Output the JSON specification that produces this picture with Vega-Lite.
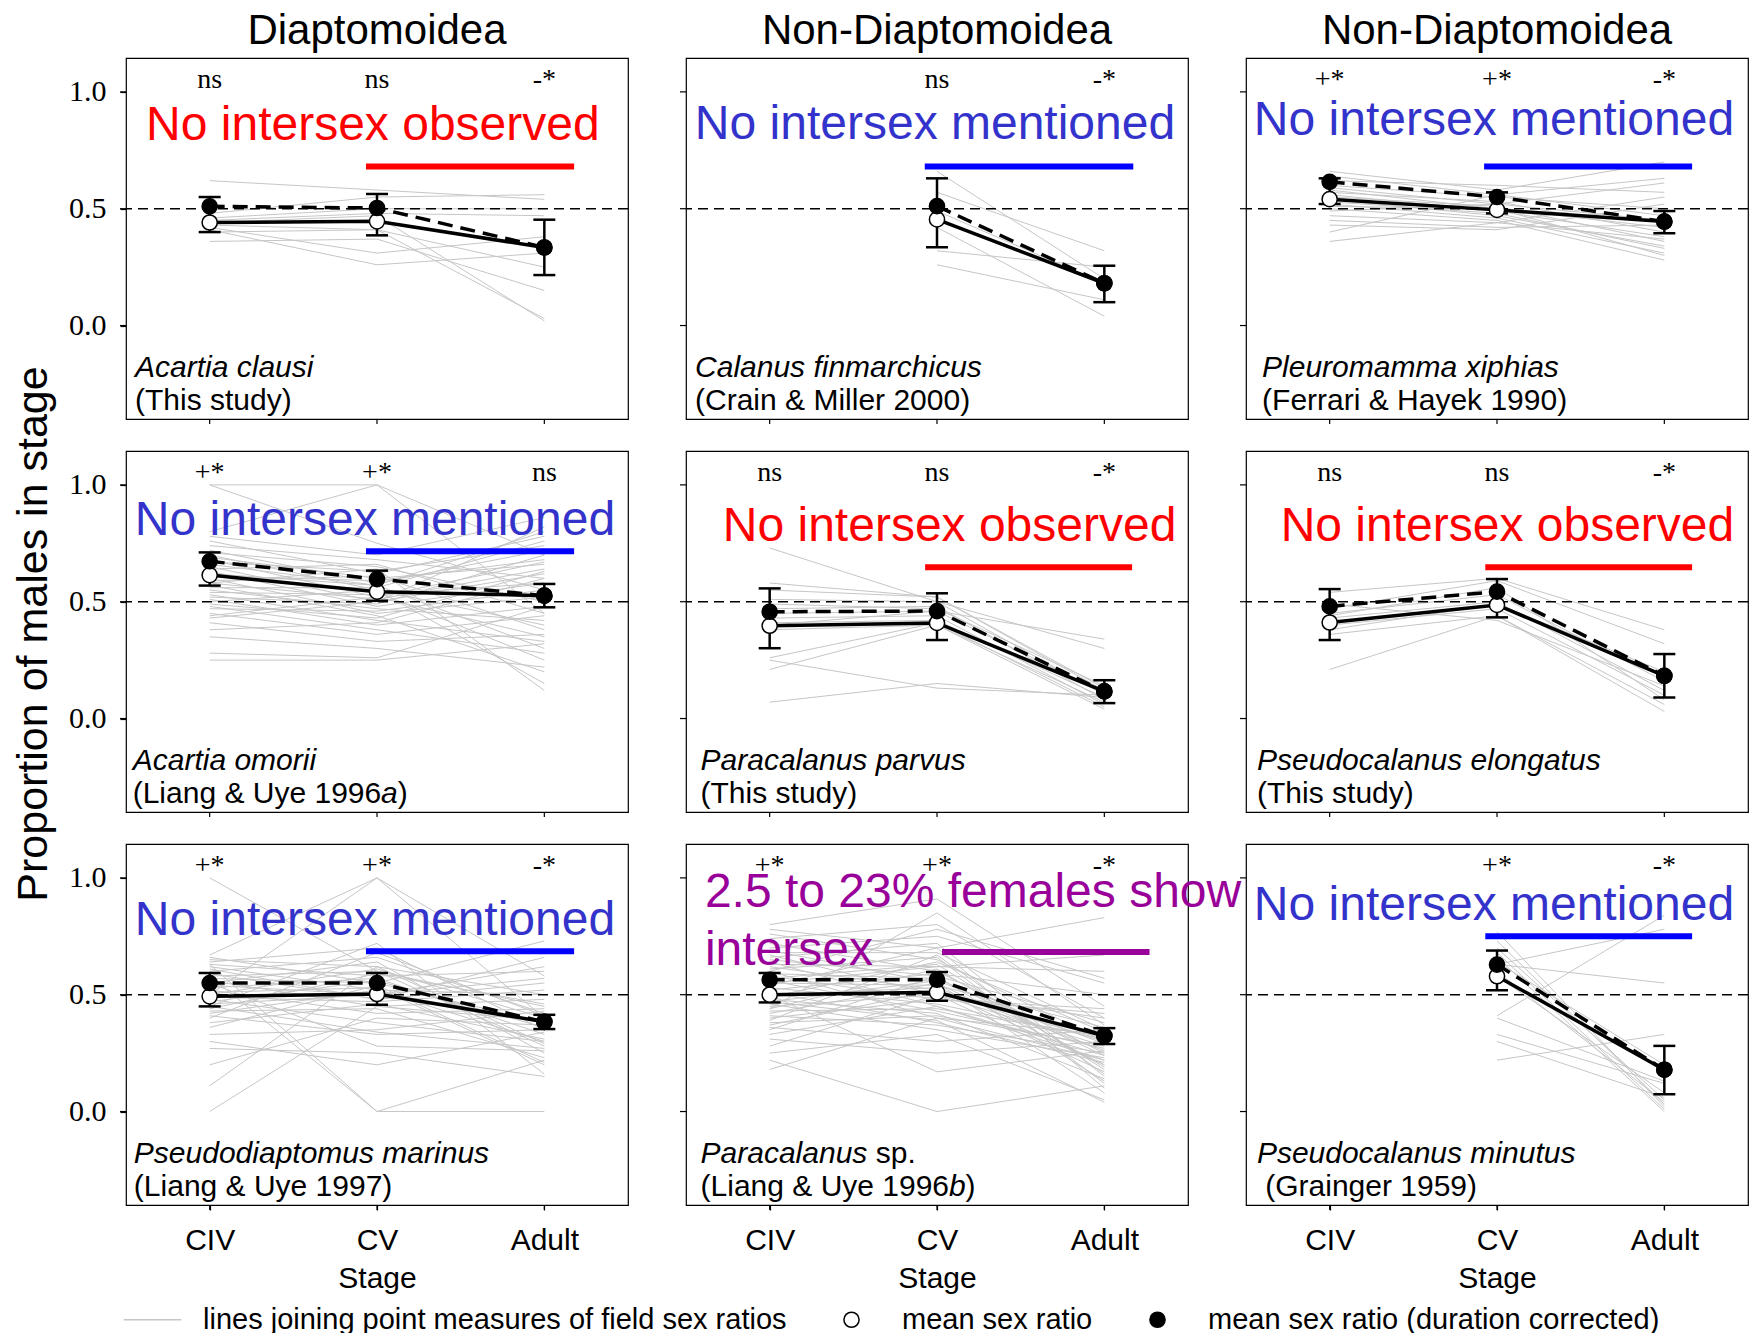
{
"$schema":"https://vega.github.io/schema/vega-lite/v6.json",
"padding":{"left":12,"top":10,"right":0,"bottom":0},
"background":"white",
"bounds":"flush",
"data":{"values":[
{"p":"a","i":1,"1":0.62,"2":0.58,"3":0.54},{"p":"a","i":2,"1":0.48,"2":0.55,"3":0.56},{"p":"a","i":3,"1":0.45,"2":0.48,"3":0.47},{"p":"a","i":4,"1":0.42,"2":0.31,"3":0.38},{"p":"a","i":5,"1":0.41,"2":0.26,"3":0.31},{"p":"a","i":6,"1":0.44,"2":0.47,"3":0.02},{"p":"a","i":7,"1":0.40,"2":0.41,"3":0.03},{"p":"a","i":8,"1":0.36,"2":0.37,"3":0.15},{"p":"a","i":9,"1":0.43,"2":0.41,"3":0.25},{"p":"a","i":10,"1":0.46,"2":0.50,"3":0.50},
{"p":"b","i":1,"2":0.66,"3":0.20},{"p":"b","i":2,"2":0.57,"3":0.32},{"p":"b","i":3,"2":0.42,"3":0.04},{"p":"b","i":4,"2":0.32,"3":0.25},{"p":"b","i":5,"2":0.26,"3":0.11},{"p":"b","i":6,"2":0.49,"3":0.18},
{"p":"c","i":1,"1":0.66,"2":0.58,"3":0.70},{"p":"c","i":2,"1":0.64,"2":0.56,"3":0.63},{"p":"c","i":3,"1":0.62,"2":0.60,"3":0.57},{"p":"c","i":4,"1":0.60,"2":0.55,"3":0.50},{"p":"c","i":5,"1":0.59,"2":0.52,"3":0.45},{"p":"c","i":6,"1":0.58,"2":0.50,"3":0.42},{"p":"c","i":7,"1":0.57,"2":0.53,"3":0.40},{"p":"c","i":8,"1":0.56,"2":0.49,"3":0.38},{"p":"c","i":9,"1":0.55,"2":0.51,"3":0.36},{"p":"c","i":10,"1":0.54,"2":0.47,"3":0.34},{"p":"c","i":11,"1":0.53,"2":0.48,"3":0.33},{"p":"c","i":12,"1":0.52,"2":0.46,"3":0.31},{"p":"c","i":13,"1":0.51,"2":0.50,"3":0.30},{"p":"c","i":14,"1":0.50,"2":0.45,"3":0.28},{"p":"c","i":15,"1":0.49,"2":0.52,"3":0.61},{"p":"c","i":16,"1":0.47,"2":0.44,"3":0.55},{"p":"c","i":17,"1":0.45,"2":0.42,"3":0.43},{"p":"c","i":18,"1":0.43,"2":0.41,"3":0.52},{"p":"c","i":19,"1":0.36,"2":0.44,"3":0.37},{"p":"c","i":20,"1":0.40,"2":0.56,"3":0.47},
{"p":"d","i":1,"1":1.0,"2":1.0,"3":0.70},{"p":"d","i":2,"1":1.0,"2":0.75,"3":0.55},{"p":"d","i":3,"1":0.80,"2":1.0,"3":0.45},{"p":"d","i":4,"1":0.78,"2":0.70,"3":0.86},{"p":"d","i":5,"1":0.76,"2":0.62,"3":0.78},{"p":"d","i":6,"1":0.74,"2":0.68,"3":0.60},{"p":"d","i":7,"1":0.72,"2":0.58,"3":0.72},{"p":"d","i":8,"1":0.71,"2":0.65,"3":0.50},{"p":"d","i":9,"1":0.70,"2":0.55,"3":0.40},{"p":"d","i":10,"1":0.69,"2":0.60,"3":0.66},{"p":"d","i":11,"1":0.68,"2":0.52,"3":0.35},{"p":"d","i":12,"1":0.67,"2":0.63,"3":0.74},{"p":"d","i":13,"1":0.66,"2":0.57,"3":0.30},{"p":"d","i":14,"1":0.65,"2":0.50,"3":0.62},{"p":"d","i":15,"1":0.64,"2":0.66,"3":0.45},{"p":"d","i":16,"1":0.63,"2":0.48,"3":0.58},{"p":"d","i":17,"1":0.62,"2":0.54,"3":0.25},{"p":"d","i":18,"1":0.61,"2":0.59,"3":0.68},{"p":"d","i":19,"1":0.60,"2":0.45,"3":0.52},{"p":"d","i":20,"1":0.59,"2":0.61,"3":0.38},{"p":"d","i":21,"1":0.58,"2":0.51,"3":0.64},{"p":"d","i":22,"1":0.57,"2":0.44,"3":0.20},{"p":"d","i":23,"1":0.56,"2":0.56,"3":0.76},{"p":"d","i":24,"1":0.55,"2":0.47,"3":0.42},{"p":"d","i":25,"1":0.54,"2":0.53,"3":0.58},{"p":"d","i":26,"1":0.53,"2":0.42,"3":0.33},{"p":"d","i":27,"1":0.52,"2":0.49,"3":0.70},{"p":"d","i":28,"1":0.51,"2":0.40,"3":0.48},{"p":"d","i":29,"1":0.50,"2":0.55,"3":0.15},{"p":"d","i":30,"1":0.49,"2":0.43,"3":0.63},{"p":"d","i":31,"1":0.48,"2":0.38,"3":0.28},{"p":"d","i":32,"1":0.47,"2":0.46,"3":0.55},{"p":"d","i":33,"1":0.45,"2":0.36,"3":0.44},{"p":"d","i":34,"1":0.43,"2":0.50,"3":0.82},{"p":"d","i":35,"1":0.41,"2":0.33,"3":0.36},{"p":"d","i":36,"1":0.38,"2":0.41,"3":0.60},{"p":"d","i":37,"1":0.35,"2":0.30,"3":0.22},{"p":"d","i":38,"1":0.28,"2":0.26,"3":0.48},{"p":"d","i":39,"1":0.25,"2":0.25,"3":0.32},{"p":"d","i":40,"1":0.58,"2":0.64,"3":0.12},{"p":"d","i":41,"1":0.62,"2":0.57,"3":0.80},{"p":"d","i":42,"1":0.44,"2":0.52,"3":0.67},
{"p":"e","i":1,"1":0.73,"2":0.50,"3":0.30},{"p":"e","i":2,"1":0.58,"2":0.52,"3":0.12},{"p":"e","i":3,"1":0.51,"2":0.50,"3":0.10},{"p":"e","i":4,"1":0.49,"2":0.47,"3":0.14},{"p":"e","i":5,"1":0.47,"2":0.48,"3":0.08},{"p":"e","i":6,"1":0.43,"2":0.44,"3":0.06},{"p":"e","i":7,"1":0.45,"2":0.46,"3":0.11},{"p":"e","i":8,"1":0.41,"2":0.42,"3":0.09},{"p":"e","i":9,"1":0.26,"2":0.41,"3":0.05},{"p":"e","i":10,"1":0.21,"2":0.40,"3":0.07},{"p":"e","i":11,"1":0.25,"2":0.13,"3":0.10},{"p":"e","i":12,"1":0.07,"2":0.15,"3":0.09},{"p":"e","i":13,"1":0.40,"2":0.46,"3":0.34},{"p":"e","i":14,"1":0.38,"2":0.40,"3":0.04},{"p":"e","i":15,"1":0.55,"2":0.52,"3":0.13},
{"p":"f","i":1,"1":0.54,"2":0.60,"3":0.38},{"p":"f","i":2,"1":0.47,"2":0.59,"3":0.32},{"p":"f","i":3,"1":0.45,"2":0.53,"3":0.16},{"p":"f","i":4,"1":0.43,"2":0.50,"3":0.12},{"p":"f","i":5,"1":0.40,"2":0.47,"3":0.10},{"p":"f","i":6,"1":0.36,"2":0.44,"3":0.06},{"p":"f","i":7,"1":0.21,"2":0.44,"3":0.03},{"p":"f","i":8,"1":0.49,"2":0.42,"3":0.14},{"p":"f","i":9,"1":0.38,"2":0.49,"3":0.20},{"p":"f","i":10,"1":0.44,"2":0.56,"3":0.08},
{"p":"g","i":1,"1":1.0,"2":0.60,"3":0.45},{"p":"g","i":2,"1":0.67,"2":1.0,"3":0.40},{"p":"g","i":3,"1":0.66,"2":0.55,"3":0.73},{"p":"g","i":4,"1":0.65,"2":0.62,"3":0.50},{"p":"g","i":5,"1":0.64,"2":0.70,"3":0.35},{"p":"g","i":6,"1":0.63,"2":0.58,"3":0.60},{"p":"g","i":7,"1":0.62,"2":0.52,"3":0.30},{"p":"g","i":8,"1":0.60,"2":0.66,"3":0.42},{"p":"g","i":9,"1":0.59,"2":0.48,"3":0.55},{"p":"g","i":10,"1":0.58,"2":0.60,"3":0.28},{"p":"g","i":11,"1":0.57,"2":0.55,"3":0.38},{"p":"g","i":12,"1":0.56,"2":0.45,"3":0.48},{"p":"g","i":13,"1":0.55,"2":0.64,"3":0.25},{"p":"g","i":14,"1":0.54,"2":0.50,"3":0.57},{"p":"g","i":15,"1":0.53,"2":0.57,"3":0.33},{"p":"g","i":16,"1":0.52,"2":0.42,"3":0.44},{"p":"g","i":17,"1":0.51,"2":0.53,"3":0.20},{"p":"g","i":18,"1":0.50,"2":0.61,"3":0.40},{"p":"g","i":19,"1":0.49,"2":0.47,"3":0.52},{"p":"g","i":20,"1":0.48,"2":0.38,"3":0.30},{"p":"g","i":21,"1":0.47,"2":0.56,"3":0.36},{"p":"g","i":22,"1":0.46,"2":0.50,"3":0.62},{"p":"g","i":23,"1":0.45,"2":0.34,"3":0.27},{"p":"g","i":24,"1":0.44,"2":0.59,"3":0.46},{"p":"g","i":25,"1":0.43,"2":0.44,"3":0.23},{"p":"g","i":26,"1":0.42,"2":0.52,"3":0.50},{"p":"g","i":27,"1":0.41,"2":0.33,"3":0.35},{"p":"g","i":28,"1":0.40,"2":0.68,"3":0.41},{"p":"g","i":29,"1":0.38,"2":0.46,"3":0.31},{"p":"g","i":30,"1":0.36,"2":0.54,"3":0.21},{"p":"g","i":31,"1":0.33,"2":0.35,"3":0.43},{"p":"g","i":32,"1":0.30,"2":0.20,"3":0.34},{"p":"g","i":33,"1":0.27,"2":0.25,"3":0.15},{"p":"g","i":34,"1":0.20,"2":0.40,"3":0.37},{"p":"g","i":35,"1":0.11,"2":0.62,"3":0.29},{"p":"g","i":36,"1":0.0,"2":0.45,"3":0.39},{"p":"g","i":37,"1":0.63,"2":0.0,"3":0.22},{"p":"g","i":38,"1":0.58,"2":0.0,"3":0.0},{"p":"g","i":39,"1":0.50,"2":1.0,"3":0.58},{"p":"g","i":40,"1":0.45,"2":0.72,"3":0.16},{"p":"g","i":41,"1":0.55,"2":0.28,"3":0.26},{"p":"g","i":42,"1":0.61,"2":0.48,"3":0.66},
{"p":"h","i":1,"1":0.80,"2":0.91,"3":0.45},{"p":"h","i":2,"1":0.78,"2":0.70,"3":0.83},{"p":"h","i":3,"1":0.76,"2":0.65,"3":0.30},{"p":"h","i":4,"1":0.74,"2":0.80,"3":0.40},{"p":"h","i":5,"1":0.72,"2":0.60,"3":0.25},{"p":"h","i":6,"1":0.70,"2":0.75,"3":0.55},{"p":"h","i":7,"1":0.69,"2":0.55,"3":0.20},{"p":"h","i":8,"1":0.68,"2":0.68,"3":0.35},{"p":"h","i":9,"1":0.67,"2":0.50,"3":0.28},{"p":"h","i":10,"1":0.66,"2":0.72,"3":0.15},{"p":"h","i":11,"1":0.65,"2":0.58,"3":0.38},{"p":"h","i":12,"1":0.64,"2":0.45,"3":0.22},{"p":"h","i":13,"1":0.63,"2":0.62,"3":0.60},{"p":"h","i":14,"1":0.62,"2":0.52,"3":0.30},{"p":"h","i":15,"1":0.61,"2":0.66,"3":0.12},{"p":"h","i":16,"1":0.60,"2":0.40,"3":0.33},{"p":"h","i":17,"1":0.59,"2":0.57,"3":0.24},{"p":"h","i":18,"1":0.58,"2":0.48,"3":0.42},{"p":"h","i":19,"1":0.57,"2":0.63,"3":0.18},{"p":"h","i":20,"1":0.56,"2":0.43,"3":0.27},{"p":"h","i":21,"1":0.55,"2":0.54,"3":0.36},{"p":"h","i":22,"1":0.54,"2":0.70,"3":0.10},{"p":"h","i":23,"1":0.53,"2":0.46,"3":0.31},{"p":"h","i":24,"1":0.52,"2":0.59,"3":0.50},{"p":"h","i":25,"1":0.51,"2":0.38,"3":0.21},{"p":"h","i":26,"1":0.50,"2":0.53,"3":0.26},{"p":"h","i":27,"1":0.49,"2":0.64,"3":0.34},{"p":"h","i":28,"1":0.48,"2":0.42,"3":0.14},{"p":"h","i":29,"1":0.47,"2":0.56,"3":0.29},{"p":"h","i":30,"1":0.46,"2":0.35,"3":0.23},{"p":"h","i":31,"1":0.45,"2":0.50,"3":0.40},{"p":"h","i":32,"1":0.44,"2":0.61,"3":0.19},{"p":"h","i":33,"1":0.43,"2":0.44,"3":0.32},{"p":"h","i":34,"1":0.42,"2":0.55,"3":0.08},{"p":"h","i":35,"1":0.41,"2":0.37,"3":0.25},{"p":"h","i":36,"1":0.40,"2":0.48,"3":0.44},{"p":"h","i":37,"1":0.39,"2":0.67,"3":0.16},{"p":"h","i":38,"1":0.38,"2":0.41,"3":0.28},{"p":"h","i":39,"1":0.37,"2":0.52,"3":0.20},{"p":"h","i":40,"1":0.36,"2":0.30,"3":0.35},{"p":"h","i":41,"1":0.35,"2":0.58,"3":0.13},{"p":"h","i":42,"1":0.33,"2":0.45,"3":0.24},{"p":"h","i":43,"1":0.31,"2":0.25,"3":0.30},{"p":"h","i":44,"1":0.28,"2":0.50,"3":0.17},{"p":"h","i":45,"1":0.25,"2":0.33,"3":0.05},{"p":"h","i":46,"1":0.22,"2":0.0,"3":0.11},{"p":"h","i":47,"1":0.18,"2":0.40,"3":0.22},{"p":"h","i":48,"1":0.50,"2":0.17,"3":0.26},{"p":"h","i":49,"1":0.60,"2":0.78,"3":0.57},{"p":"h","i":50,"1":0.44,"2":0.85,"3":0.37},{"p":"h","i":51,"1":0.55,"2":0.62,"3":0.67},{"p":"h","i":52,"1":0.47,"2":0.39,"3":0.04},
{"p":"i","i":1,"2":0.41,"3":0.84},{"p":"i","i":2,"2":0.63,"3":0.78},{"p":"i","i":3,"2":0.63,"3":0.55},{"p":"i","i":4,"2":0.77,"3":0.02},{"p":"i","i":5,"2":0.73,"3":0.03},{"p":"i","i":6,"2":0.70,"3":0.05},{"p":"i","i":7,"2":0.68,"3":0.01},{"p":"i","i":8,"2":0.66,"3":0.0},{"p":"i","i":9,"2":0.60,"3":0.04},{"p":"i","i":10,"2":0.40,"3":0.13},{"p":"i","i":11,"2":0.22,"3":0.33},{"p":"i","i":12,"2":0.33,"3":0.12},{"p":"i","i":13,"2":0.30,"3":0.06},{"p":"i","i":14,"2":0.64,"3":0.20},{"p":"i","i":15,"2":0.58,"3":0.08},
{"k":"m","p":"a","s":1,"m":0.441,"d":0.51,"lo":0.40,"hi":0.55},{"k":"m","p":"a","s":2,"m":0.446,"d":0.503,"lo":0.386,"hi":0.563},{"k":"m","p":"a","s":3,"m":0.334,"d":0.334,"lo":0.216,"hi":0.453},
{"k":"m","p":"b","s":2,"m":0.454,"d":0.511,"lo":0.335,"hi":0.63},{"k":"m","p":"b","s":3,"m":0.181,"d":0.181,"lo":0.10,"hi":0.256},
{"k":"m","p":"c","s":1,"m":0.541,"d":0.615,"lo":0.52,"hi":0.63},{"k":"m","p":"c","s":2,"m":0.495,"d":0.55,"lo":0.48,"hi":0.57},{"k":"m","p":"c","s":3,"m":0.445,"d":0.445,"lo":0.395,"hi":0.49},
{"k":"m","p":"d","s":1,"m":0.614,"d":0.673,"lo":0.569,"hi":0.711},{"k":"m","p":"d","s":2,"m":0.543,"d":0.597,"lo":0.504,"hi":0.633},{"k":"m","p":"d","s":3,"m":0.526,"d":0.526,"lo":0.476,"hi":0.576},
{"k":"m","p":"e","s":1,"m":0.397,"d":0.457,"lo":0.301,"hi":0.557},{"k":"m","p":"e","s":2,"m":0.409,"d":0.46,"lo":0.336,"hi":0.536},{"k":"m","p":"e","s":3,"m":0.116,"d":0.116,"lo":0.066,"hi":0.164},
{"k":"m","p":"f","s":1,"m":0.411,"d":0.48,"lo":0.336,"hi":0.554},{"k":"m","p":"f","s":2,"m":0.486,"d":0.543,"lo":0.433,"hi":0.597},{"k":"m","p":"f","s":3,"m":0.183,"d":0.183,"lo":0.09,"hi":0.276},
{"k":"m","p":"g","s":1,"m":0.493,"d":0.55,"lo":0.45,"hi":0.593},{"k":"m","p":"g","s":2,"m":0.503,"d":0.55,"lo":0.457,"hi":0.593},{"k":"m","p":"g","s":3,"m":0.384,"d":0.384,"lo":0.353,"hi":0.414},
{"k":"m","p":"h","s":1,"m":0.50,"d":0.564,"lo":0.467,"hi":0.593},{"k":"m","p":"h","s":2,"m":0.51,"d":0.564,"lo":0.474,"hi":0.597},{"k":"m","p":"h","s":3,"m":0.324,"d":0.324,"lo":0.289,"hi":0.357},
{"k":"m","p":"i","s":2,"m":0.579,"d":0.629,"lo":0.519,"hi":0.689},{"k":"m","p":"i","s":3,"m":0.179,"d":0.179,"lo":0.074,"hi":0.281},
{"k":"s","p":"a","x":1,"t":"ns"},{"k":"s","p":"a","x":2,"t":"ns"},{"k":"s","p":"a","x":3,"t":"-*"},
{"k":"s","p":"b","x":2,"t":"ns"},{"k":"s","p":"b","x":3,"t":"-*"},
{"k":"s","p":"c","x":1,"t":"+*"},{"k":"s","p":"c","x":2,"t":"+*"},{"k":"s","p":"c","x":3,"t":"-*"},
{"k":"s","p":"d","x":1,"t":"+*"},{"k":"s","p":"d","x":2,"t":"+*"},{"k":"s","p":"d","x":3,"t":"ns"},
{"k":"s","p":"e","x":1,"t":"ns"},{"k":"s","p":"e","x":2,"t":"ns"},{"k":"s","p":"e","x":3,"t":"-*"},
{"k":"s","p":"f","x":1,"t":"ns"},{"k":"s","p":"f","x":2,"t":"ns"},{"k":"s","p":"f","x":3,"t":"-*"},
{"k":"s","p":"g","x":1,"t":"+*"},{"k":"s","p":"g","x":2,"t":"+*"},{"k":"s","p":"g","x":3,"t":"-*"},
{"k":"s","p":"h","x":1,"t":"+*"},{"k":"s","p":"h","x":2,"t":"+*"},{"k":"s","p":"h","x":3,"t":"-*"},
{"k":"s","p":"i","x":2,"t":"+*"},{"k":"s","p":"i","x":3,"t":"-*"},
{"k":"t","p":"a","x":0.62,"y":0.853,"t":"No intersex observed","n":"o"},
{"k":"t","p":"b","x":0.553,"y":0.857,"t":"No intersex mentioned","n":"m"},
{"k":"t","p":"c","x":0.547,"y":0.875,"t":"No intersex mentioned","n":"m"},
{"k":"t","p":"d","x":0.553,"y":0.847,"t":"No intersex mentioned","n":"m"},
{"k":"t","p":"e","x":0.72,"y":0.821,"t":"No intersex observed","n":"o"},
{"k":"t","p":"f","x":0.707,"y":0.821,"t":"No intersex observed","n":"o"},
{"k":"t","p":"g","x":0.553,"y":0.817,"t":"No intersex mentioned","n":"m"},
{"k":"t","p":"h","x":0.613,"y":0.936,"t":"2.5 to 23% females show","n":"s"},
{"k":"t","p":"h","x":0.613,"y":0.686,"t":"intersex","n":"s"},
{"k":"t","p":"i","x":0.547,"y":0.88,"t":"No intersex mentioned","n":"m"},
{"k":"b","p":"a","x":1.934,"x2":3.178,"y":0.681,"n":"O"},
{"k":"b","p":"b","x":1.927,"x2":3.173,"y":0.681,"n":"M"},
{"k":"b","p":"c","x":1.923,"x2":3.166,"y":0.681,"n":"M"},
{"k":"b","p":"d","x":1.934,"x2":3.178,"y":0.716,"n":"M"},
{"k":"b","p":"e","x":1.929,"x2":3.166,"y":0.647,"n":"O"},
{"k":"b","p":"f","x":1.93,"x2":3.166,"y":0.647,"n":"O"},
{"k":"b","p":"g","x":1.934,"x2":3.178,"y":0.686,"n":"M"},
{"k":"b","p":"h","x":2.03,"x2":3.27,"y":0.683,"n":"S"},
{"k":"b","p":"i","x":1.93,"x2":3.166,"y":0.75,"n":"M"},
{"k":"sp","p":"a","x":0.554,"y":-0.18,"t":"Acartia clausi"},{"k":"ci","p":"a","x":0.554,"y":-0.325,"t":"(This study)"},
{"k":"sp","p":"b","x":0.554,"y":-0.18,"t":"Calanus finmarchicus"},{"k":"ci","p":"b","x":0.554,"y":-0.325,"t":"(Crain & Miller 2000)"},
{"k":"sp","p":"c","x":0.596,"y":-0.18,"t":"Pleuromamma xiphias"},{"k":"ci","p":"c","x":0.596,"y":-0.325,"t":"(Ferrari & Hayek 1990)"},
{"k":"sp","p":"d","x":0.54,"y":-0.18,"t":"Acartia omorii"},{"k":"ci","p":"d","x":0.54,"y":-0.325,"t":"(Liang & Uye 1996"},{"k":"it","p":"d","x":2.024,"y":-0.325,"t":"a"},{"k":"ci","p":"d","x":2.124,"y":-0.325,"t":")"},
{"k":"sp","p":"e","x":0.587,"y":-0.18,"t":"Paracalanus parvus"},{"k":"ci","p":"e","x":0.587,"y":-0.325,"t":"(This study)"},
{"k":"sp","p":"f","x":0.566,"y":-0.18,"t":"Pseudocalanus elongatus"},{"k":"ci","p":"f","x":0.566,"y":-0.325,"t":"(This study)"},
{"k":"sp","p":"g","x":0.547,"y":-0.18,"t":"Pseudodiaptomus marinus"},{"k":"ci","p":"g","x":0.547,"y":-0.325,"t":"(Liang & Uye 1997)"},
{"k":"sp","p":"h","x":0.587,"y":-0.18,"t":"Paracalanus"},{"k":"ci","p":"h","x":1.634,"y":-0.18,"t":"sp."},{"k":"ci","p":"h","x":0.587,"y":-0.325,"t":"(Liang & Uye 1996"},{"k":"it","p":"h","x":2.071,"y":-0.325,"t":"b"},{"k":"ci","p":"h","x":2.171,"y":-0.325,"t":")"},
{"k":"sp","p":"i","x":0.565,"y":-0.18,"t":"Pseudocalanus minutus"},{"k":"ci","p":"i","x":0.615,"y":-0.325,"t":"(Grainger 1959)"}
]},
"transform":[{"lookup":"p","from":{"data":{"values":[{"p":"a","r":1,"c":1},{"p":"b","r":1,"c":2},{"p":"c","r":1,"c":3},{"p":"d","r":2,"c":1},{"p":"e","r":2,"c":2},{"p":"f","r":2,"c":3},{"p":"g","r":3,"c":1},{"p":"h","r":3,"c":2},{"p":"i","r":3,"c":3}]},"key":"p","fields":["r","c"]}}],
"facet":{
"row":{"field":"r","type":"ordinal","header":{"title":"Proportion of males in stage","labels":false,"titleFontSize":43,"titleFont":"Liberation Sans","titleFontWeight":"normal","titleColor":"black","titlePadding":2}},
"column":{"field":"c","type":"ordinal","header":{"title":null,"labelExpr":"datum.value == 1 ? 'Diaptomoidea' : 'Non-Diaptomoidea'","labelFontSize":42,"labelFont":"Liberation Sans","labelColor":"black","labelPadding":5}}
},
"spacing":{"row":32,"column":58},
"spec":{"width":502,"height":361,"layer":[
{"transform":[{"filter":"isValid(datum.i)"},{"fold":["1","2","3"],"as":["st","v"]},{"filter":"isValid(datum.v)"}],
"mark":{"type":"line","stroke":"#c6c6c6","strokeWidth":1},
"encoding":{
"x":{"field":"st","type":"quantitative","scale":{"domain":[0.5,3.5],"nice":false,"zero":false},"axis":{"values":[1,2,3],"labelExpr":"datum.value == 1 ? 'CIV' : datum.value == 2 ? 'CV' : 'Adult'","title":"Stage","tickSize":5,"labelFontSize":30,"labelFont":"Liberation Sans","labelPadding":15,"titleFontSize":30,"titleFont":"Liberation Sans","titleFontWeight":"normal","titlePadding":8}},
"y":{"field":"v","type":"quantitative","scale":{"domain":[-0.4,1.145],"nice":false,"zero":false},"axis":{"values":[0,0.5,1],"format":".1f","title":null,"tickSize":6,"labelFontSize":30,"labelFont":"Liberation Serif","labelPadding":14}},
"detail":{"field":"i","type":"nominal"}}},
{"transform":[{"filter":"datum.k=='sp'"}],"layer":[
{"mark":{"type":"rule","stroke":"black","strokeWidth":1.5,"strokeDash":[10,6]},"encoding":{"y":{"datum":0.5}}},
{"mark":{"type":"rule","stroke":"black","strokeWidth":1.2},"encoding":{"x":{"datum":0.464},"x2":{"datum":0.5},"y":{"datum":0}}},
{"mark":{"type":"rule","stroke":"black","strokeWidth":1.2},"encoding":{"x":{"datum":0.464},"x2":{"datum":0.5},"y":{"datum":0.5}}},
{"mark":{"type":"rule","stroke":"black","strokeWidth":1.2},"encoding":{"x":{"datum":0.464},"x2":{"datum":0.5},"y":{"datum":1}}},
{"mark":{"type":"rule","stroke":"black","strokeWidth":1.2},"encoding":{"x":{"datum":1},"y":{"datum":-0.4214},"y2":{"datum":-0.4}}},
{"mark":{"type":"rule","stroke":"black","strokeWidth":1.2},"encoding":{"x":{"datum":2},"y":{"datum":-0.4214},"y2":{"datum":-0.4}}},
{"mark":{"type":"rule","stroke":"black","strokeWidth":1.2},"encoding":{"x":{"datum":3},"y":{"datum":-0.4214},"y2":{"datum":-0.4}}}
]},
{"transform":[{"filter":"datum.k=='m'"}],"mark":{"type":"line","stroke":"black","strokeWidth":3.5},"encoding":{"x":{"field":"s","type":"quantitative"},"y":{"field":"m","type":"quantitative"}}},
{"transform":[{"filter":"datum.k=='m'"}],"mark":{"type":"line","stroke":"black","strokeWidth":3.5,"strokeDash":[15,8]},"encoding":{"x":{"field":"s","type":"quantitative"},"y":{"field":"d","type":"quantitative"}}},
{"transform":[{"filter":"datum.k=='m'"}],"mark":{"type":"rule","stroke":"black","strokeWidth":2.5},"encoding":{"x":{"field":"s","type":"quantitative"},"y":{"field":"lo","type":"quantitative"},"y2":{"field":"hi"}}},
{"transform":[{"filter":"datum.k=='m'"},{"fold":["lo","hi"],"as":["cp","cv"]}],"mark":{"type":"tick","orient":"horizontal","color":"black","size":22,"thickness":2.5,"opacity":1},"encoding":{"x":{"field":"s","type":"quantitative"},"y":{"field":"cv","type":"quantitative"}}},
{"transform":[{"filter":"datum.k=='m'"},{"fold":["m","d"],"as":["leg","val"]}],"mark":{"type":"point","size":230,"strokeWidth":1.5,"opacity":1},
"encoding":{"x":{"field":"s","type":"quantitative"},"y":{"field":"val","type":"quantitative"},
"shape":{"field":"leg","type":"nominal","scale":{"domain":["g","m","d"],"range":["M-3.8,0L3.8,0","circle","circle"]},"legend":{"title":null,"orient":"bottom","direction":"horizontal","labelExpr":"datum.label == 'g' ? 'lines joining point measures of field sex ratios' : datum.label == 'm' ? 'mean sex ratio' : 'mean sex ratio (duration corrected)'","labelFontSize":29,"labelFont":"Liberation Sans","labelColor":"black","labelLimit":2000,"symbolSize":230,"symbolStrokeWidth":1.5,"labelOffset":36,"columnPadding":50,"offset":0,"padding":12}},
"fill":{"field":"leg","type":"nominal","scale":{"domain":["g","m","d"],"range":["transparent","white","black"]},"legend":{"title":null,"orient":"bottom","direction":"horizontal","labelExpr":"datum.label == 'g' ? 'lines joining point measures of field sex ratios' : datum.label == 'm' ? 'mean sex ratio' : 'mean sex ratio (duration corrected)'","labelFontSize":29,"labelFont":"Liberation Sans","labelColor":"black","labelLimit":2000,"symbolSize":230,"symbolStrokeWidth":1.5,"labelOffset":36,"columnPadding":50,"offset":0,"padding":12}},
"stroke":{"field":"leg","type":"nominal","scale":{"domain":["g","m","d"],"range":["#c6c6c6","black","black"]},"legend":{"title":null,"orient":"bottom","direction":"horizontal","labelExpr":"datum.label == 'g' ? 'lines joining point measures of field sex ratios' : datum.label == 'm' ? 'mean sex ratio' : 'mean sex ratio (duration corrected)'","labelFontSize":29,"labelFont":"Liberation Sans","labelColor":"black","labelLimit":2000,"symbolSize":230,"symbolStrokeWidth":1.5,"labelOffset":36,"columnPadding":50,"offset":0,"padding":12}}}},
{"transform":[{"filter":"datum.k=='s'"}],"mark":{"type":"text","font":"Liberation Serif","fontSize":28,"color":"black","align":"center","baseline":"middle"},"encoding":{"x":{"field":"x","type":"quantitative"},"y":{"datum":1.05},"text":{"field":"t"}}},
{"transform":[{"filter":"datum.k=='t'"}],"mark":{"type":"text","font":"Liberation Sans","fontSize":48,"align":"left","baseline":"middle"},"encoding":{"x":{"field":"x","type":"quantitative"},"y":{"field":"y","type":"quantitative"},"text":{"field":"t"},"color":{"field":"n","type":"nominal","scale":{"domain":["o","m","s","O","M","S"],"range":["#ff0000","#3333cc","#990099","#ff0000","#0000ff","#990099"]},"legend":null}}},
{"transform":[{"filter":"datum.k=='b'"}],"mark":{"type":"rule","strokeWidth":6},"encoding":{"x":{"field":"x","type":"quantitative"},"x2":{"field":"x2"},"y":{"field":"y","type":"quantitative"},"color":{"field":"n","type":"nominal","legend":null}}},
{"transform":[{"filter":"datum.k=='sp' || datum.k=='it'"}],"mark":{"type":"text","font":"Liberation Sans","fontStyle":"italic","fontSize":30,"color":"black","align":"left","baseline":"middle"},"encoding":{"x":{"field":"x","type":"quantitative"},"y":{"field":"y","type":"quantitative"},"text":{"field":"t"}}},
{"transform":[{"filter":"datum.k=='ci'"}],"mark":{"type":"text","font":"Liberation Sans","fontSize":30,"color":"black","align":"left","baseline":"middle"},"encoding":{"x":{"field":"x","type":"quantitative"},"y":{"field":"y","type":"quantitative"},"text":{"field":"t"}}}
]},
"config":{"view":{"stroke":"black","strokeWidth":1.2},"axis":{"grid":false,"domain":false,"tickColor":"black","labelColor":"black","titleColor":"black","tickWidth":1.2}}
}
